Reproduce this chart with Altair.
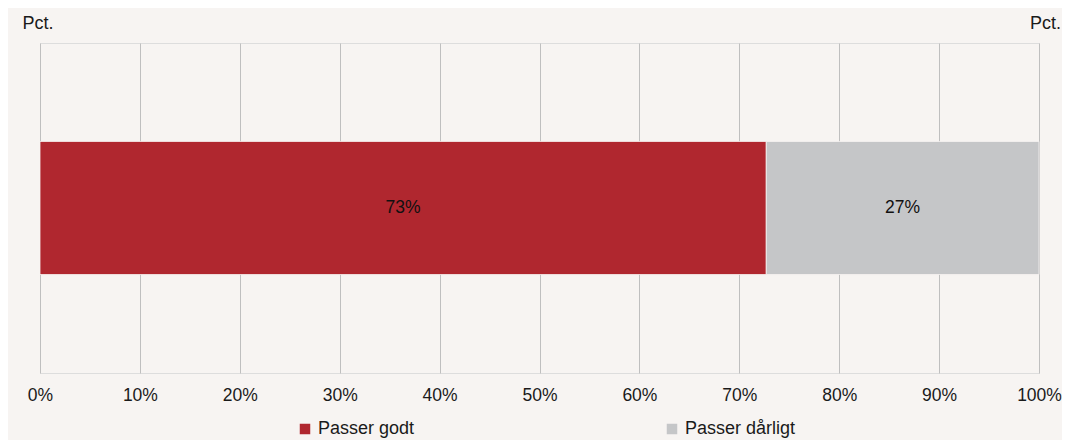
import altair as alt
import pandas as pd

categories = ["Passer godt", "Passer dårligt"]
values = [72.7, 27.3]
labels = ["73%", "27%"]
order = [0, 1]
colors = ["#B0272F", "#C5C6C8"]
ticks = [0, 10, 20, 30, 40, 50, 60, 70, 80, 90, 100]

df = pd.DataFrame({"cat": categories, "value": values, "label": labels,
                   "order": order, "row": ["r", "r"]})

base = alt.Chart(df).transform_stack(
    stack="value", groupby=["row"], as_=["x0", "x1"],
    sort=[alt.SortField("order", order="ascending")]
).transform_calculate(mid="(datum.x0 + datum.x1) / 2")

xscale = alt.Scale(domain=[0, 100], nice=False, zero=True)
yscale = alt.Scale(paddingInner=0, paddingOuter=0.74)

bars = base.mark_bar(stroke="#F7F4F2", strokeWidth=0.8).encode(
    x=alt.X("x0:Q", scale=xscale,
            axis=alt.Axis(values=ticks, labelExpr="datum.value + '%'",
                          grid=True, gridColor="#BFBFBF", gridWidth=1,
                          domain=False, ticks=False, labelPadding=13,
                          labelFlush=False,
                          labelFontSize=17.5, labelColor="#1a1a1a", title=None)),
    x2="x1:Q",
    y=alt.Y("row:N", scale=yscale,
            axis=alt.Axis(title="Pct.", labels=False, ticks=False, domain=False,
                          grid=False, titleAngle=0, titleAlign="center",
                          titleBaseline="alphabetic", titleX=-2.5, titleY=-15,
                          titleFontSize=18, titleFontWeight="normal",
                          titleColor="#1a1a1a", orient="left")),
    color=alt.Color("cat:N", scale=alt.Scale(domain=categories, range=colors),
                    legend=alt.Legend(title=None, orient="none", direction="horizontal",
                                      legendX=256, legendY=377, symbolType="square",
                                      symbolSize=110, symbolStrokeWidth=0,
                                      labelFontSize=18, labelColor="#1a1a1a",
                                      labelOffset=4, columnPadding=248)),
    order=alt.Order("order:Q"),
)

text = base.mark_text(fontSize=17.5, color="#111111", baseline="middle").encode(
    x=alt.X("mid:Q", scale=xscale),
    y=alt.Y("row:N", scale=yscale,
            axis=alt.Axis(title="Pct.", labels=False, ticks=False, domain=False,
                          grid=False, titleAngle=0, titleAlign="center",
                          titleBaseline="alphabetic", titleX=6, titleY=-15,
                          titleFontSize=18, titleFontWeight="normal",
                          titleColor="#1a1a1a", orient="right")),
    text="label:N",
)

chart = alt.layer(bars, text).resolve_axis(y="independent").properties(
    width=999, height=330,
    background="#F7F4F2",
    autosize=alt.AutoSizeParams(type="none"),
    padding={"left": 32, "top": 35, "right": 23, "bottom": 67},
).configure_view(stroke=None).configure(font="Liberation Sans")

chart.save("out.html", embed_options={"renderer": "svg", "actions": False})
